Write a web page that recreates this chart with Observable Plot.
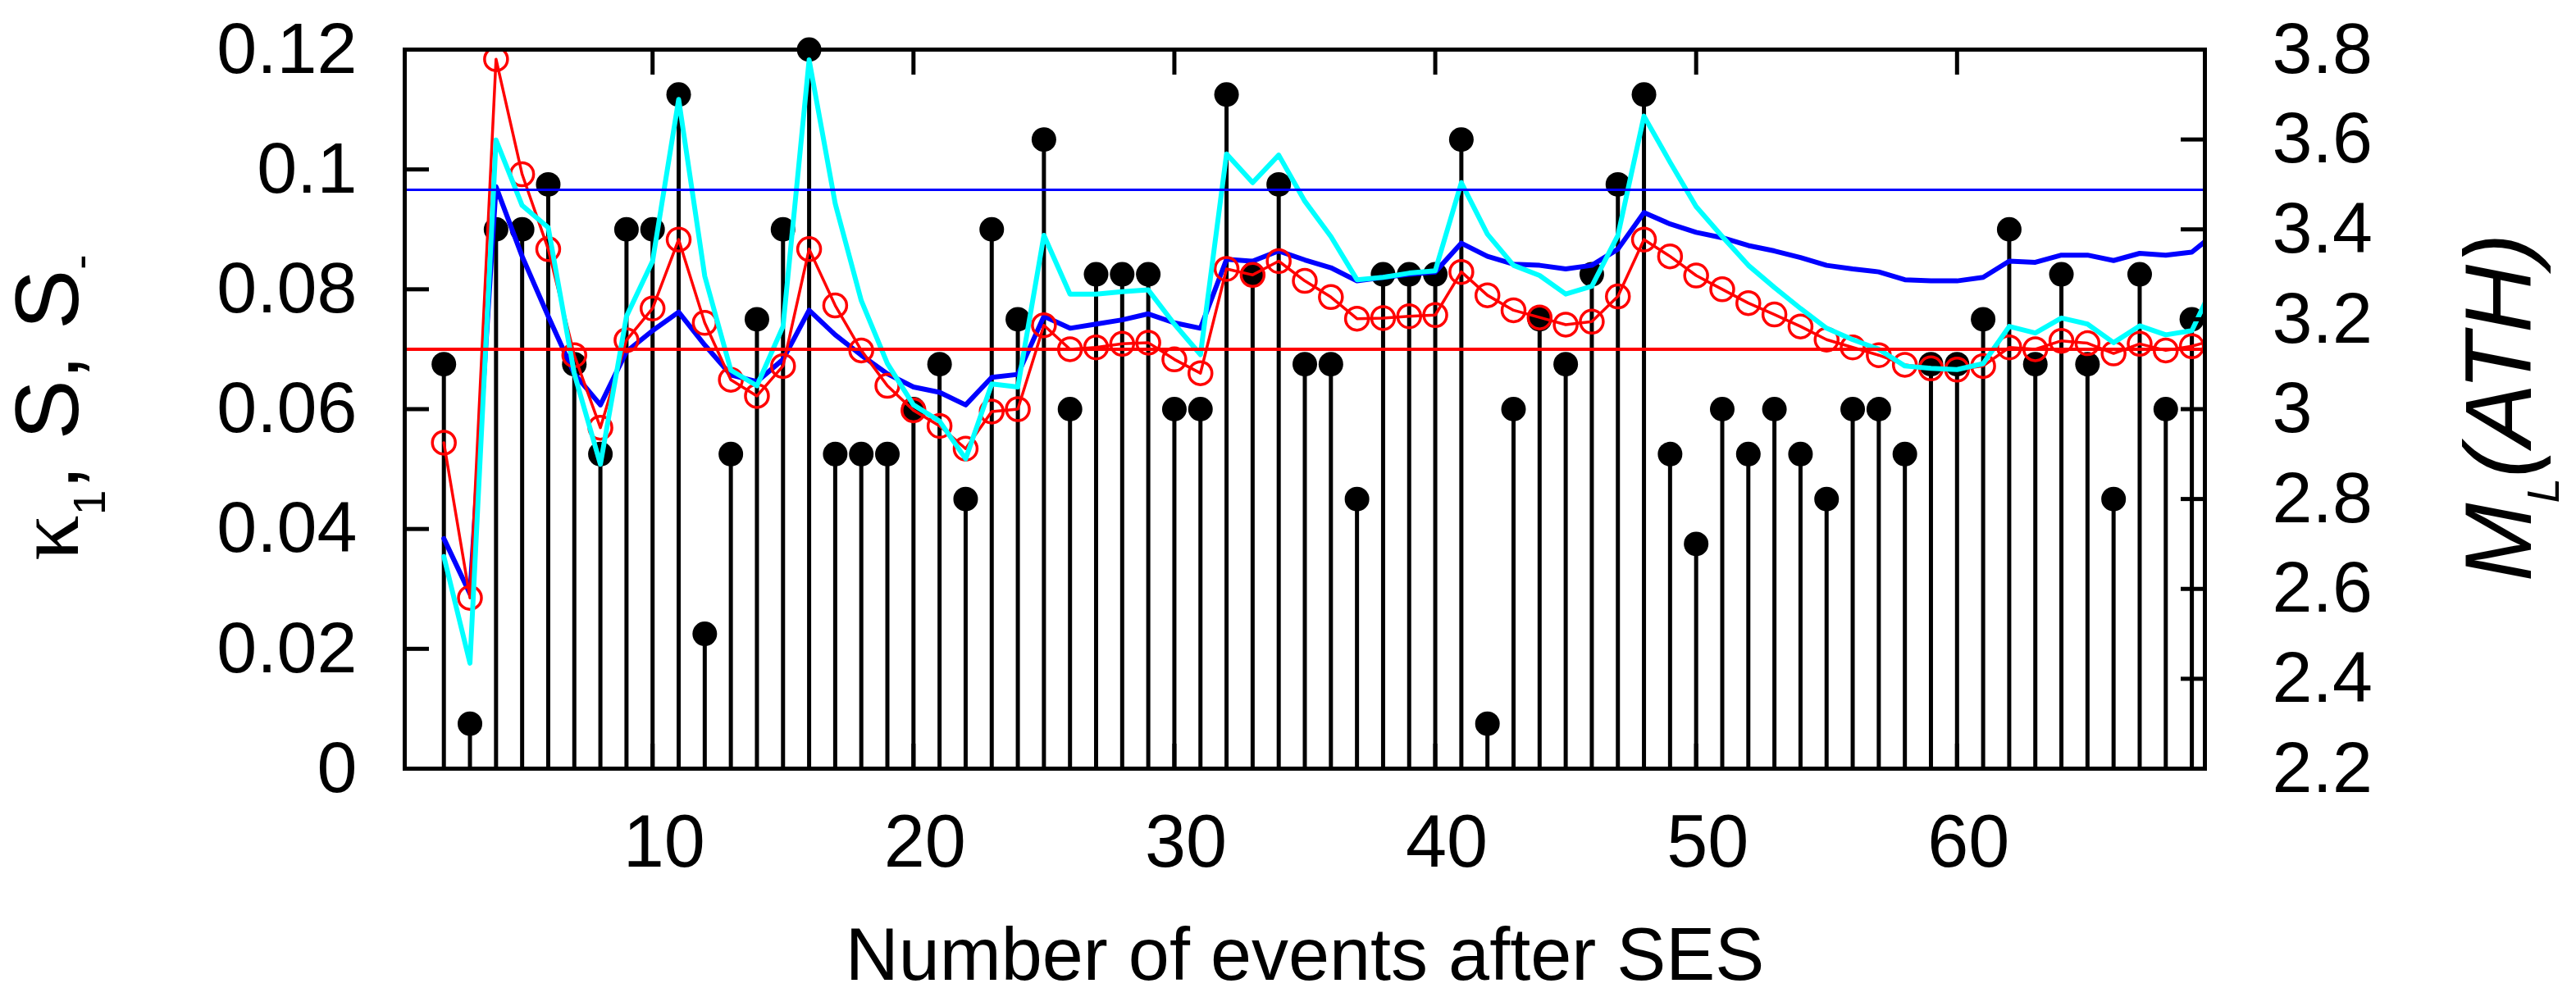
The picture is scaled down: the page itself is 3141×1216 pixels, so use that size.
<!DOCTYPE html>
<html>
<head>
<meta charset="utf-8">
<script src="https://cdn.jsdelivr.net/npm/d3@7"></script>
<script src="https://cdn.jsdelivr.net/npm/@observablehq/plot@0.6"></script>
<style>
html, body { margin: 0; padding: 0; background: #fff; }
svg { display: block; }
</style>
</head>
<body>
<div id="chart"></div>
<script>
// Event index after the SES (lines run to 70, clipped at the frame)
const events = [2,3,4,5,6,7,8,9,10,11,12,13,14,15,16,17,18,19,20,21,22,23,24,25,26,27,28,29,30,31,32,33,34,35,36,37,38,39,40,41,42,43,44,45,46,47,48,49,50,51,52,53,54,55,56,57,58,59,60,61,62,63,64,65,66,67,68,69,70];

// Magnitudes M_L(ATH) of events 2..69 (right axis)
const magnitudes = [3.1,2.3,3.4,3.4,3.5,3.1,2.9,3.4,3.4,3.7,
  2.5,2.9,3.2,3.4,3.8,2.9,2.9,2.9,3.0,3.1,
  2.8,3.4,3.2,3.6,3.0,3.3,3.3,3.3,3.0,3.0,
  3.7,3.3,3.5,3.1,3.1,2.8,3.3,3.3,3.3,3.6,
  2.3,3.0,3.2,3.1,3.3,3.5,3.7,2.9,2.7,3.0,
  2.9,3.0,2.9,2.8,3.0,3.0,2.9,3.1,3.1,3.2,
  3.4,3.1,3.3,3.1,2.8,3.3,3.0,3.2];

// kappa_1 (red circles)
const kappa1 = [.0544,.0285,.1184,.0992,.0867,.0690,.0569,.0715,.0768,.0883,
  .0744,.0649,.0622,.0672,.0867,.0773,.0698,.0639,.0598,.0572,
  .0534,.0596,.0600,.0740,.0700,.0703,.0709,.0711,.0683,.0660,
  .0834,.0824,.0847,.0814,.0787,.0751,.0752,.0755,.0757,.0829,
  .0790,.0765,.0753,.0741,.0746,.0788,.0883,.0855,.0823,.0800,
  .0777,.0758,.0738,.0716,.0703,.0690,.0674,.0668,.0666,.0672,
  .0703,.0700,.0714,.0710,.0693,.0709,.0698,.0705,.0717];

// Entropy S (blue)
const entropyS = [.0384,.0292,.0971,.0855,.0755,.0659,.0607,.0696,.0731,.0762,
  .0707,.0657,.0646,.0683,.0765,.0724,.0690,.0659,.0637,.0628,
  .0607,.0653,.0658,.0755,.0735,.0742,.0749,.0759,.0744,.0735,
  .0850,.0847,.0864,.0849,.0836,.0814,.0820,.0825,.0829,.0877,
  .0855,.0842,.0840,.0834,.0840,.0867,.0928,.0909,.0895,.0886,
  .0873,.0864,.0853,.0840,.0834,.0829,.0816,.0814,.0814,.0820,
  .0847,.0845,.0857,.0857,.0848,.0860,.0857,.0862,.0897];

// Entropy under time reversal S- (cyan)
const entropySminus = [.0354,.0176,.1049,.0940,.0903,.0659,.0508,.0755,.0847,.1117,
  .0822,.0665,.0639,.0738,.1183,.0943,.0781,.0676,.0607,.0580,
  .0517,.0642,.0637,.0890,.0792,.0792,.0796,.0799,.0742,.0691,
  .1026,.0978,.1024,.0947,.0888,.0816,.0820,.0827,.0831,.0978,
  .0892,.0840,.0823,.0792,.0805,.0890,.1089,.1012,.0938,.0888,
  .0840,.0803,.0768,.0735,.0716,.0700,.0672,.0668,.0666,.0676,
  .0738,.0727,.0752,.0742,.0711,.0739,.0724,.0731,.0823];

const kappaCritical = 0.070;
const entropyUniform = 0.0966;

const leftTicks = [0, 0.02, 0.04, 0.06, 0.08, 0.1, 0.12];
const rightTicks = [2.2, 2.4, 2.6, 2.8, 3.0, 3.2, 3.4, 3.6, 3.8];
const xTicks = [10, 20, 30, 40, 50, 60];
const xDomain = [0.5, 69.5];
const leftDomain = [0, 0.12];
const rightDomain = [2.2, 3.8];

// map right-axis magnitudes onto the left scale
const toLeft = m => (m - rightDomain[0]) / (rightDomain[1] - rightDomain[0]) * (leftDomain[1] - leftDomain[0]) + leftDomain[0];
const toRight = v => (v - leftDomain[0]) / (leftDomain[1] - leftDomain[0]) * (rightDomain[1] - rightDomain[0]) + rightDomain[0];
const fmt = v => String(+v.toFixed(2));

const stems = magnitudes.map((m, i) => ({event: events[i], m, y: toLeft(m)}));
const series = (arr) => arr.map((v, i) => ({event: events[i], v}));
const kData = series(kappa1), sData = series(entropyS), smData = series(entropySminus);

const FONT = "'Liberation Sans', Arial, Helvetica, sans-serif";

const chart = Plot.plot({
  width: 3141,
  height: 1216,
  marginLeft: 493,
  marginRight: 453,
  marginTop: 60,
  marginBottom: 279,
  style: {fontFamily: FONT, background: "white", color: "black", overflow: "visible"},
  x: {domain: xDomain},
  y: {domain: leftDomain},
  marks: [
    Plot.ruleX(stems, {x: "event", y1: 0, y2: "y", stroke: "black", strokeWidth: 5}),
    Plot.dot(stems, {x: "event", y: "y", r: 15, fill: "black", stroke: "none"}),
    Plot.line(sData, {x: "event", y: "v", stroke: "#0000ff", strokeWidth: 6, clip: true}),
    Plot.line(kData, {x: "event", y: "v", stroke: "#ff0000", strokeWidth: 3.5, clip: true}),
    Plot.dot(kData, {x: "event", y: "v", r: 14, stroke: "#ff0000", strokeWidth: 3.5, fill: "none", clip: true}),
    Plot.line(smData, {x: "event", y: "v", stroke: "#00ffff", strokeWidth: 6, clip: true}),
    Plot.ruleY([kappaCritical], {stroke: "#ff0000", strokeWidth: 4}),
    Plot.ruleY([entropyUniform], {stroke: "#0000ff", strokeWidth: 3}),
    // inward ticks
    Plot.axisY({anchor: "left", ticks: leftTicks, tickSize: -30, strokeWidth: 5, fill: "none", label: null}),
    Plot.axisY({anchor: "right", ticks: rightTicks.map(toLeft), tickSize: -30, strokeWidth: 5, fill: "none", label: null}),
    Plot.axisX({anchor: "top", ticks: xTicks, tickSize: -30, strokeWidth: 5, fill: "none", label: null}),
    Plot.axisX({anchor: "bottom", ticks: xTicks, tickSize: -30, strokeWidth: 5, fill: "none", label: null}),
    // tick labels
    Plot.axisY({anchor: "left", ticks: leftTicks, tickSize: 0, tickPadding: 58, fontSize: 88, tickFormat: d => d === 0 ? "0" : fmt(d), label: null}),
    Plot.axisY({anchor: "right", ticks: rightTicks.map(toLeft), tickSize: 0, tickPadding: 82, fontSize: 88, tickFormat: d => String(+toRight(d).toFixed(1)), label: null}),
    Plot.axisX({anchor: "bottom", ticks: xTicks, tickSize: 0, tickPadding: 56, fontSize: 90, dx: 14, label: null}),
    Plot.frame({stroke: "black", strokeWidth: 5})
  ]
});

document.getElementById("chart").appendChild(chart);

const svg = d3.select(chart);
// Left axis title: κ1, S, S-
const lt = svg.append("text")
  .attr("transform", "translate(95,497) rotate(-90)")
  .attr("text-anchor", "middle")
  .attr("fill", "black")
  .style("font-family", FONT)
  .style("font-size", "110px");
lt.append("tspan").style("font-family", "'Liberation Serif', 'DejaVu Serif', serif").text("κ");
lt.append("tspan").attr("dy", 33).style("font-size", "55px").text("1");
lt.append("tspan").attr("dy", -33).text(", S, S");
lt.append("tspan").attr("dy", 22).style("font-size", "55px").text("-");

// Right axis title: M_L(ATH)
const rt = svg.append("text")
  .attr("transform", "translate(3086,497) rotate(-90)")
  .attr("text-anchor", "middle")
  .attr("fill", "black")
  .style("font-family", FONT)
  .style("font-style", "italic")
  .style("font-size", "115px");
rt.append("tspan").text("M");
rt.append("tspan").attr("dy", 34).style("font-size", "55px").text("L");
rt.append("tspan").attr("dy", -34).text("(ATH)");

// X axis title
svg.append("text")
  .attr("x", 1591)
  .attr("y", 1195)
  .attr("text-anchor", "middle")
  .attr("fill", "black")
  .style("font-family", FONT)
  .style("font-size", "90px")
  .text("Number of events after SES");
</script>
</body>
</html>
